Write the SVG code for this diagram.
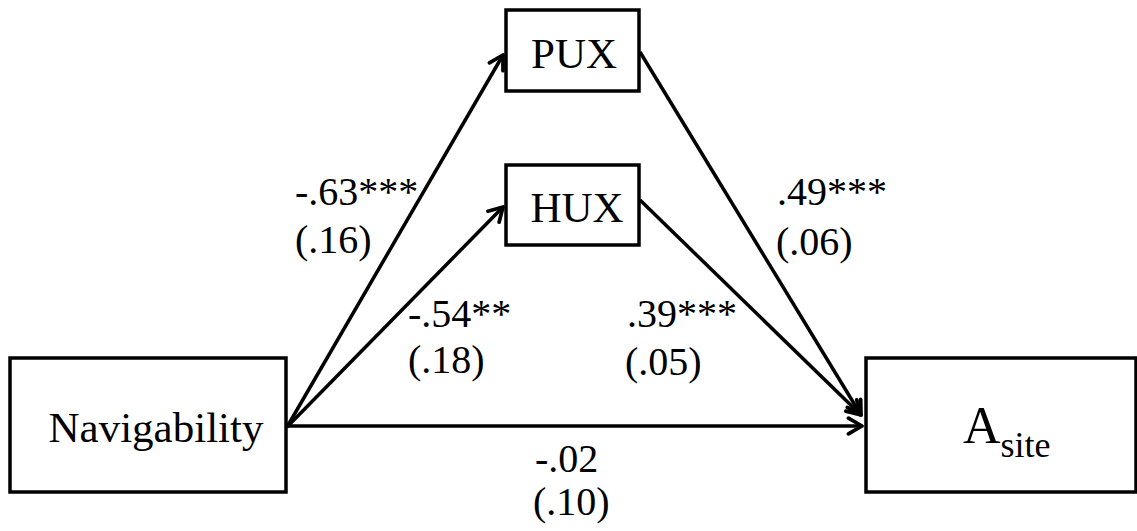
<svg xmlns="http://www.w3.org/2000/svg" width="1137" height="531" viewBox="0 0 1137 531">
<style>
.box{fill:#fff;stroke:#000;stroke-width:3.5}
.nt{font-size:43px;fill:#000}
.lb{font-size:40px;fill:#000}
.ln{stroke:#000;stroke-width:3.5;fill:none}
</style>
<defs>
<marker id="arr" viewBox="0 0 14 14" refX="12" refY="7" markerWidth="20" markerHeight="20" markerUnits="userSpaceOnUse" orient="auto">
<path d="M2.5,1.5 L12,7 L2.5,12.5" fill="none" stroke="#000" stroke-width="2.6" stroke-linecap="round" stroke-linejoin="round"/>
</marker>
</defs>
<rect width="1137" height="531" fill="#fff"/>
<g id="connectors">
<line class="ln" x1="287" y1="427" x2="503" y2="55" marker-end="url(#arr)"/>
<line class="ln" x1="287" y1="427" x2="503" y2="207" marker-end="url(#arr)"/>
<line class="ln" x1="640" y1="52" x2="861" y2="415" marker-end="url(#arr)"/>
<line class="ln" x1="640" y1="200" x2="861" y2="415" marker-end="url(#arr)"/>
<line class="ln" x1="287" y1="426" x2="862" y2="426" marker-end="url(#arr)"/>
</g>
<g id="labels" font-family="'Liberation Serif', 'Times New Roman', serif">
<text class="lb" x="295" y="205">-.63***</text>
<text class="lb" x="295" y="253">(.16)</text>
<text class="lb" x="408" y="327">-.54**</text>
<text class="lb" x="408" y="373">(.18)</text>
<text class="lb" x="777" y="205">.49***</text>
<text class="lb" x="776" y="255">(.06)</text>
<text class="lb" x="627" y="327">.39***</text>
<text class="lb" x="625" y="375">(.05)</text>
<text class="lb" x="535" y="472">-.02</text>
<text class="lb" x="533" y="515">(.10)</text>
</g>
<g id="node-pux" font-family="'Liberation Serif', 'Times New Roman', serif">
<rect class="box" x="506" y="10" width="133" height="81"/>
<text class="nt" x="574" y="68" text-anchor="middle">PUX</text>
</g>
<g id="node-hux" font-family="'Liberation Serif', 'Times New Roman', serif">
<rect class="box" x="506" y="165" width="133" height="80"/>
<text class="nt" x="577" y="222" text-anchor="middle">HUX</text>
</g>
<g id="node-navigability" font-family="'Liberation Serif', 'Times New Roman', serif">
<rect class="box" x="10" y="358" width="276" height="134"/>
<text class="nt" x="156" y="442" text-anchor="middle">Navigability</text>
</g>
<g id="node-asite" font-family="'Liberation Serif', 'Times New Roman', serif">
<rect class="box" x="866" y="358" width="270" height="134"/>
<text x="963" y="443" font-size="52" fill="#000">A<tspan font-size="36" dy="14">site</tspan></text>
</g>
</svg>
